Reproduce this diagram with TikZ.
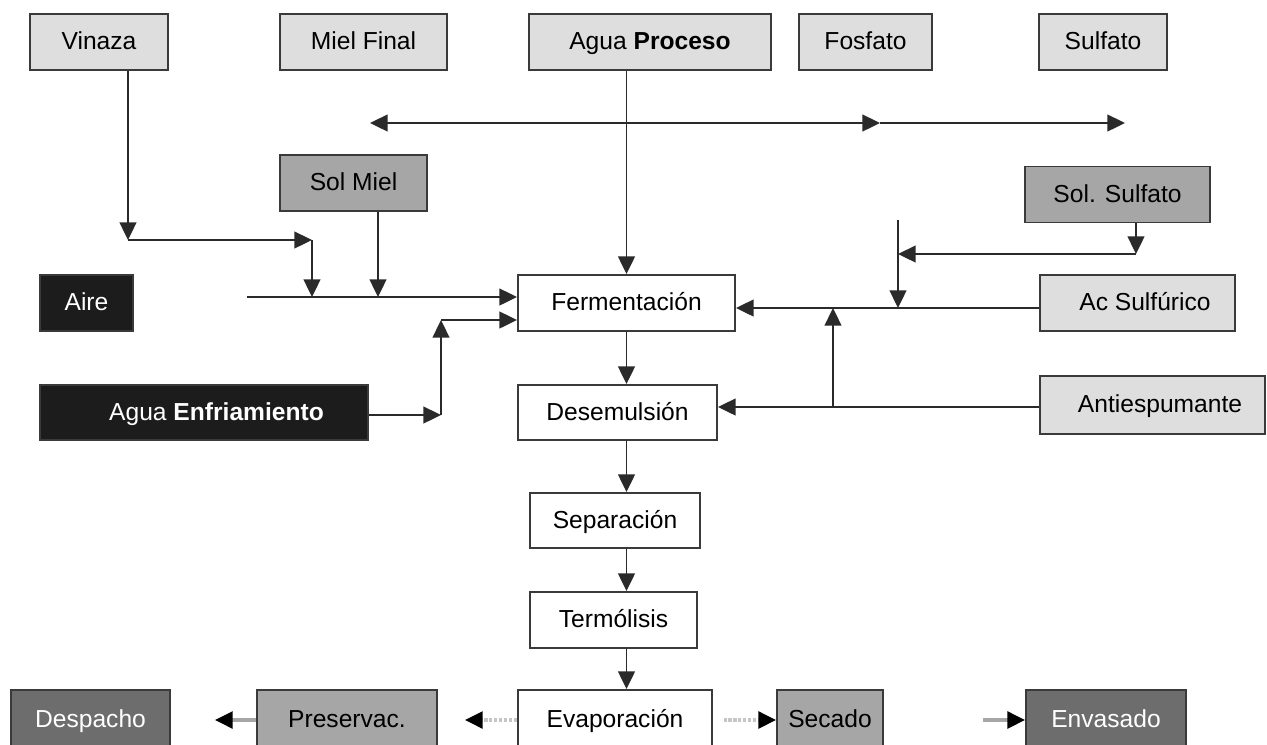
\documentclass[tikz,border=0pt]{standalone}
\usepackage{fontspec}
\setmainfont{Liberation Sans}
\usetikzlibrary{arrows.meta}
\definecolor{boxline}{HTML}{3A3A3A}
\definecolor{linegray}{HTML}{2A2A2A}
\definecolor{lightfill}{HTML}{DEDEDE}
\definecolor{midfill}{HTML}{A6A6A6}
\definecolor{darkfill}{HTML}{6D6D6D}
\definecolor{blackfill}{HTML}{1C1C1C}
\tikzstyle{arrow} = [->,>={Triangle[length=10pt,width=9.5pt]},line width=1.1pt,draw=linegray]
\tikzstyle{grayarrow} = [-{Triangle[length=10pt,width=9.5pt,color=black]},line width=1.8pt,draw=gray!70]
\tikzstyle{dots} = [-{Triangle[length=10pt,width=9.5pt,color=black]},line width=1.8pt,draw=gray!45,densely dotted]
\tikzstyle{box} = [draw=boxline,line width=1.1pt,rectangle,font=\fontsize{14}{16}\selectfont,minimum height=1.12cm,inner sep=0pt,text height=11pt,text depth=2pt]
\tikzstyle{lightbox} = [box,fill=lightfill]
\tikzstyle{midbox} = [box,fill=midfill]
\tikzstyle{darkbox} = [box,fill=darkfill,text=white]
\tikzstyle{blackbox} = [box,fill=blackfill,text=white]
\tikzstyle{stepbox} = [box,fill=white]

\begin{document}
\begin{tikzpicture}
        \useasboundingbox (0,0) rectangle (25.34,-14.88);
        \clip (0,0) rectangle (25.34,-14.88);
        % entradas
        \node[lightbox, minimum width=2.76cm] at (1.98,-0.84) (vinaza) {Vinaza};
        \node[lightbox, minimum width=3.34cm] at (7.27,-0.84) (mielfinal) {Miel Final};
        \node[lightbox, minimum width=4.84cm] at (13.0,-0.84) (proceso) {Agua \textbf{Proceso}};
        \node[lightbox, minimum width=2.66cm] at (17.31,-0.84) (fosfato) {Fosfato};
        \node[lightbox, minimum width=2.56cm] at (22.06,-0.84) (sulfato) {Sulfato};
        \node[midbox, minimum width=2.94cm] at (7.07,-3.66) (solmiel) {Sol Miel};
        \node[midbox, minimum width=3.7cm] at (22.35,-3.89) (solsulfato) {Sol. Sulfato};
        \node[blackbox, minimum width=1.86cm] at (1.73,-6.06) (aire) {Aire};
        \node[lightbox, minimum width=3.9cm] at (22.75,-6.06) (acsulf) {\hspace*{0.3cm}Ac Sulfúrico};
        \node[blackbox, minimum width=6.56cm, minimum height=1.1cm] at (4.08,-8.25) (enfr) {\hspace*{0.5cm}Agua \textbf{Enfriamiento}};
        \node[lightbox, minimum width=4.5cm, minimum height=1.16cm] at (23.05,-8.1) (antiesp) {\hspace*{0.3cm}Antiespumante};

        % proceso
        \node[stepbox, minimum width=4.34cm] at (12.53,-6.06) (ferm) {Fermentación};
        \node[stepbox, minimum width=3.98cm, minimum height=1.1cm] at (12.35,-8.25) (desem) {Desemulsión};
        \node[stepbox, minimum width=3.4cm, minimum height=1.1cm] at (12.3,-10.41) (separ) {Separación};
        \node[stepbox, minimum width=3.34cm] at (12.27,-12.4) (termo) {Termólisis};
        \node[stepbox, minimum width=3.88cm, minimum height=1.2cm] at (12.3,-14.4) (evap) {Evaporación};

        % salidas
        \node[darkbox, minimum width=3.18cm, minimum height=1.2cm] at (1.81,-14.4) (despacho) {Despacho};
        \node[midbox, minimum width=3.6cm, minimum height=1.2cm] at (6.94,-14.4) (preserv) {Preservac.};
        \node[midbox, minimum width=2.12cm, minimum height=1.2cm] at (16.6,-14.4) (secado) {Secado};
        \node[darkbox, minimum width=3.2cm, minimum height=1.2cm] at (22.12,-14.4) (envasado) {Envasado};

        \coordinate (hl) at (7.4,-2.46);
        \coordinate (hm) at (17.6,-2.46);
        \coordinate (hr) at (22.5,-2.46);
        \coordinate (vk) at (2.56,-4.8);
        \coordinate (vr) at (6.24,-4.8);
        \coordinate (aw) at (4.94,-5.94);
        \coordinate (sm) at (7.56,-5.94);
        \coordinate (ae) at (8.82,-8.3);
        \coordinate (au) at (8.82,-6.4);
        \coordinate (sv) at (17.96,-4.4);
        \coordinate (sa) at (17.96,-6.16);
        \coordinate (sd) at (22.72,-5.08);
        \coordinate (an) at (16.66,-8.14);
        \coordinate (dp) at (4.3,-14.4);
        \coordinate (pv) at (9.3,-14.4);
        \coordinate (ev) at (19.66,-14.4);

        \draw[arrow, <->] (hl) -- (hm);
        \draw[arrow] (hm) -- (hr);
        \draw[arrow] (proceso.south -| ferm.north) -- (ferm.north);

        \draw[arrow] (vinaza.south -| vk) -- (vk);
        \draw[arrow] (vk) -- (vr);
        \draw[arrow] (vr) -- (vr |- aw);
        \draw[arrow] (solmiel.south -| sm) -- (sm);
        \draw[arrow] (aw) -- (aw -| ferm.west);
        \draw[arrow] (enfr.east |- ae) -- (ae);
        \draw[arrow] (ae) -- (au);
        \draw[arrow] (au) -- (au -| ferm.west);

        \draw[arrow] (sv) -- (sa);
        \draw[arrow] (solsulfato.south -| sd) -- (sd);
        \draw[arrow] (sd) -- (sd -| sv);
        \draw[arrow] (acsulf.west |- sa) -- (sa -| ferm.east);
        \draw[arrow] (antiesp.west |- an) -- (an -| desem.east);
        \draw[arrow] (an) -- (an |- sa);

        \draw[arrow] (ferm.south) -- (ferm.south |- desem.north);
        \draw[arrow] (ferm.south |- desem.south) -- (ferm.south |- separ.north);
        \draw[arrow] (ferm.south |- separ.south) -- (ferm.south |- termo.north);
        \draw[arrow] (ferm.south |- termo.south) -- (ferm.south |- evap.north);

        \draw[grayarrow] (preserv.west) -- (dp);
        \draw[dots] (evap.west) -- (pv);
        \draw[dots] ([xshift=6pt]evap.east) -- (secado.west);
        \draw[grayarrow] (ev) -- (envasado.west);
\end{tikzpicture}
\end{document}
